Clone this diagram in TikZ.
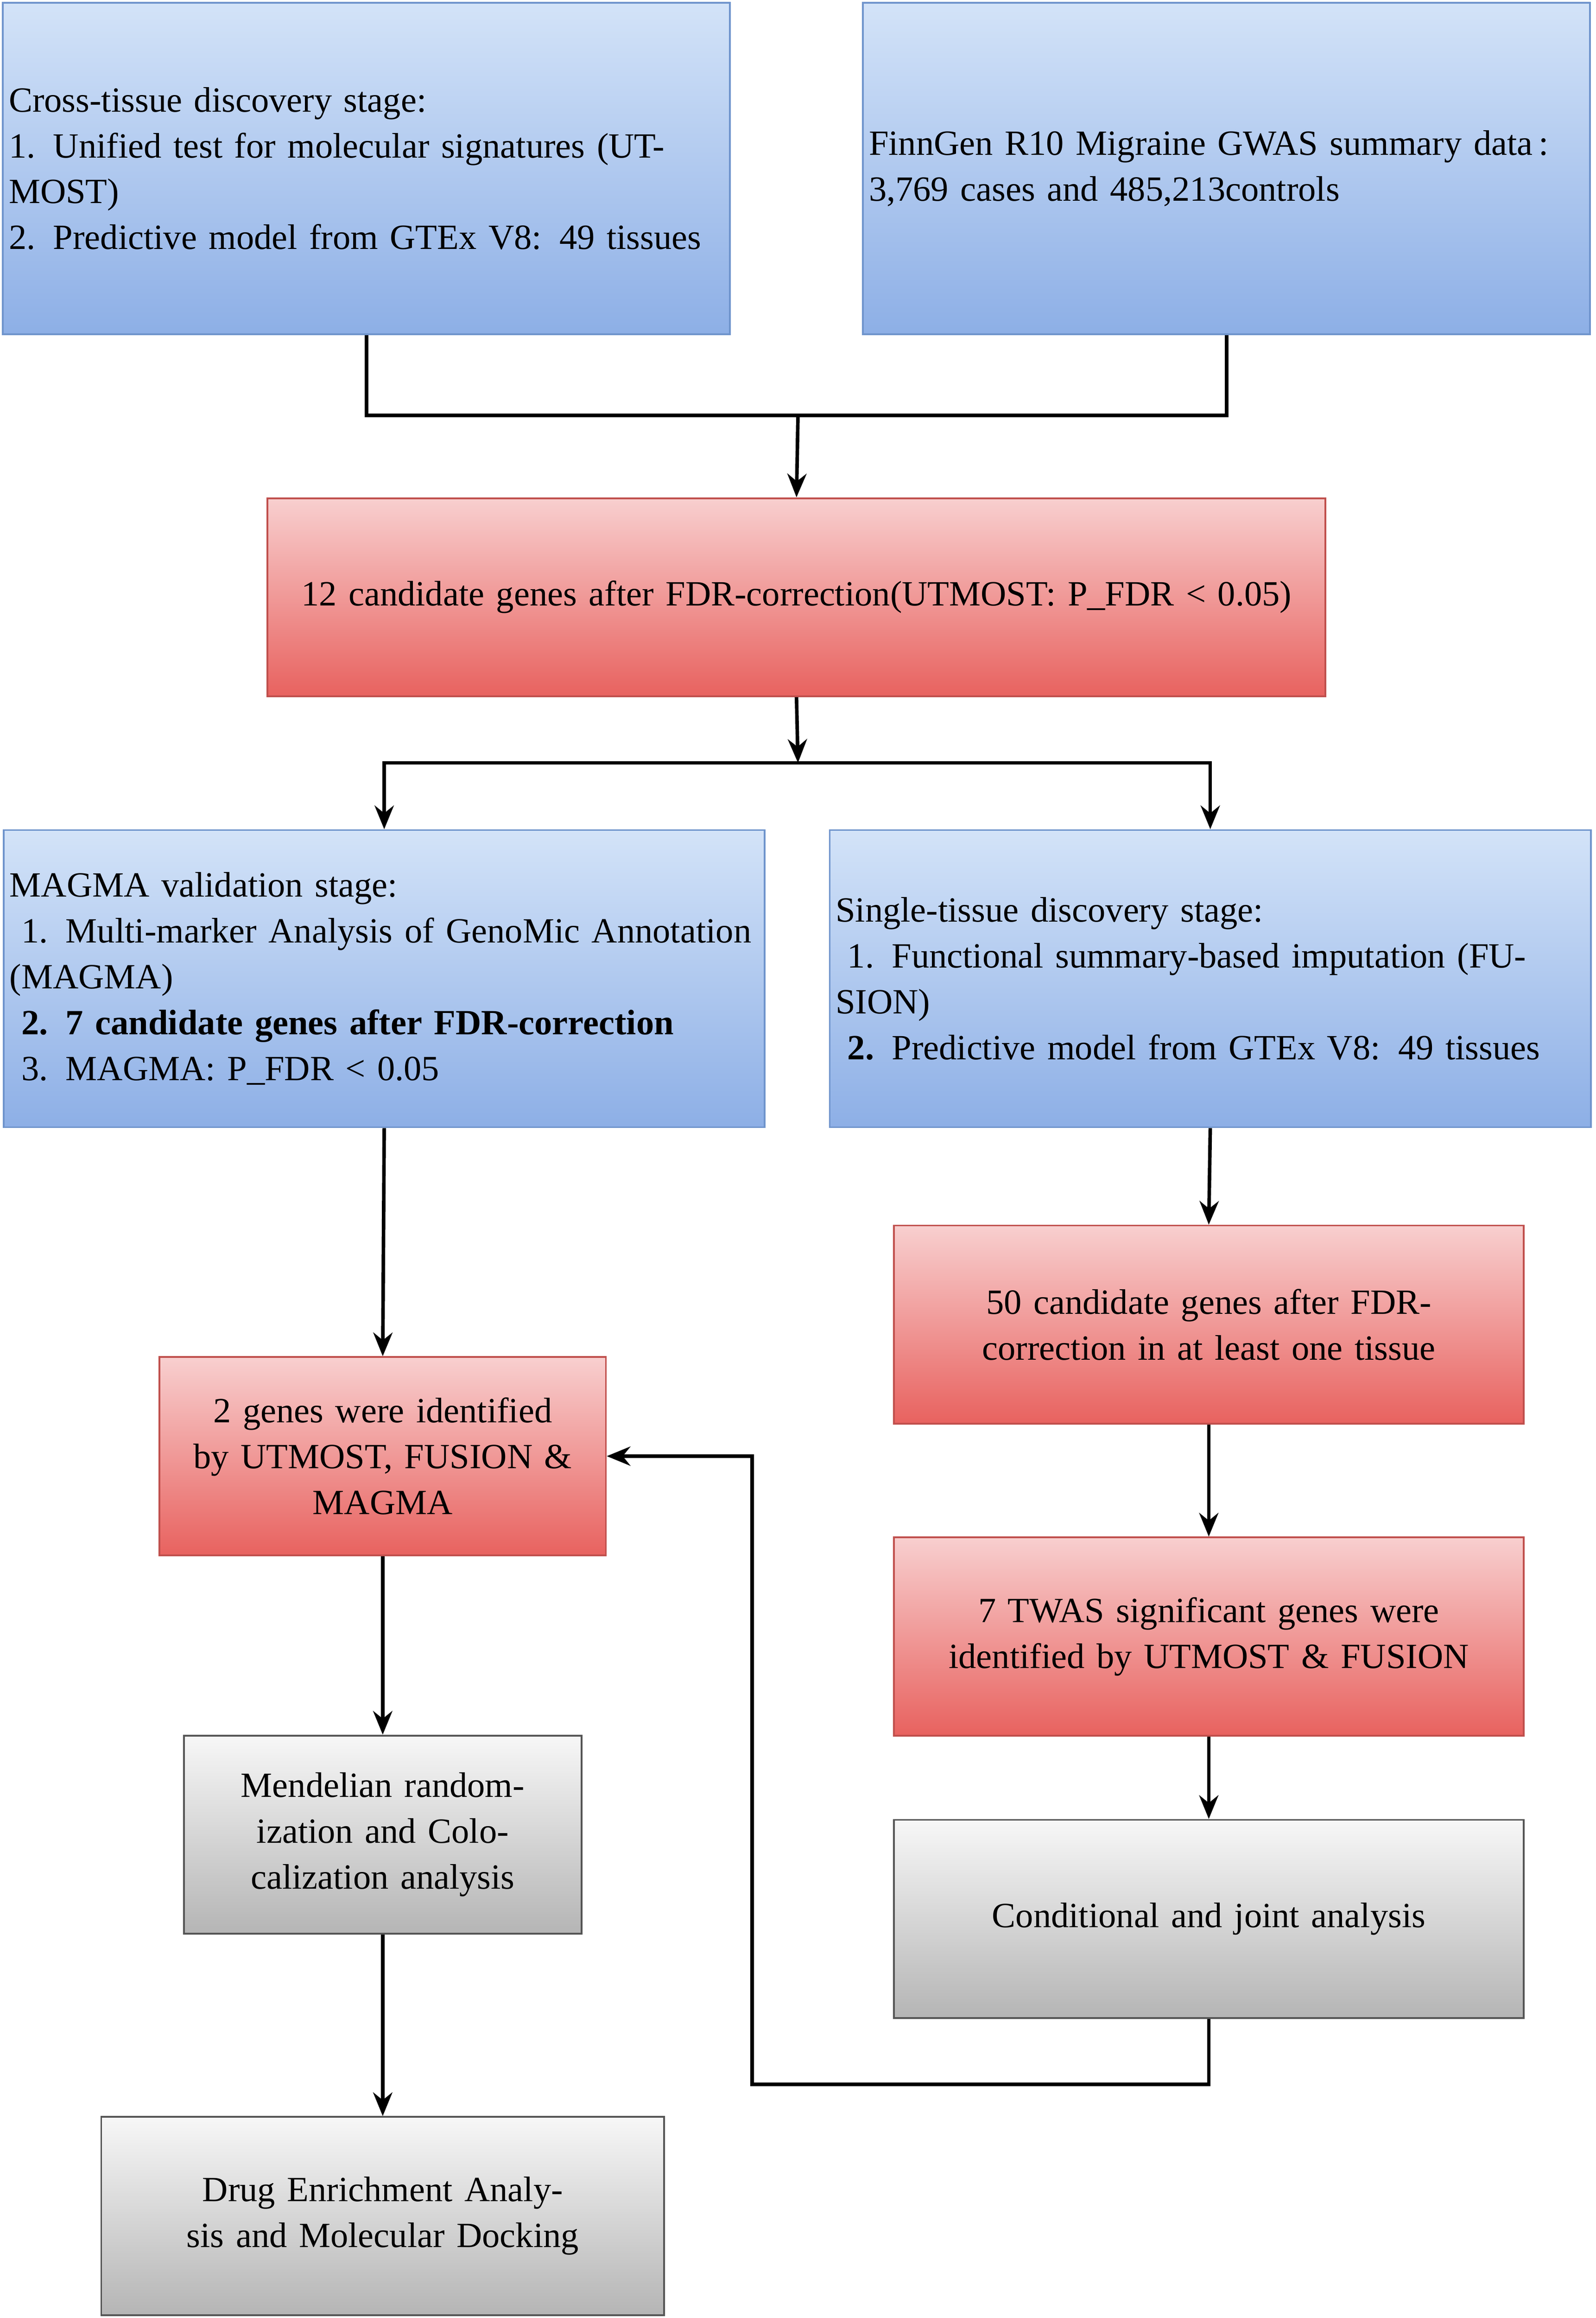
\documentclass[tikz,border=0pt]{standalone}
\usepackage{fontspec}
\setmainfont{Liberation Serif}
\usetikzlibrary{arrows.meta}
\definecolor{bt}{HTML}{D3E3F8}\definecolor{bb}{HTML}{8DAFE6}\definecolor{bd}{HTML}{6F94CC}
\definecolor{rt}{HTML}{F8CFCF}\definecolor{rb}{HTML}{E8625F}\definecolor{rd}{HTML}{C0504D}
\definecolor{gt}{HTML}{F7F7F7}\definecolor{gb}{HTML}{B5B5B5}\definecolor{gd}{HTML}{555555}
\begin{document}
\begin{tikzpicture}[x=1pt,y=-1pt,
 box/.style={draw,line width=1.2pt,inner sep=4pt,font=\fontsize{24}{31}\selectfont},
 blue/.style={box,draw=bd,top color=bt,bottom color=bb},
 red/.style={box,draw=rd,top color=rt,bottom color=rb,align=center},
 gray/.style={box,draw=gd,top color=gt,bottom color=gb,align=center},
 arr/.style={line width=2.4pt,-{Stealth[length=16pt,width=13pt]}},
 ln/.style={line width=2.4pt}]
\useasboundingbox (0,0) rectangle (1080,1568);
\node[blue,minimum width=492pt,minimum height=224pt,text width=484pt,align=left] (A) at (248,114)
 {Cross-tissue discovery stage:\\1. Unified test for molecular signatures (UTMOST)\\2. Predictive model from GTEx V8: 49 tissues};
\node[blue,minimum width=492pt,minimum height=224pt,text width=484pt,align=left] (B) at (830,114)
 {FinnGen R10 Migraine GWAS summary data\,:\\3,769 cases and 485,213controls};
\node[red,minimum width=716pt,minimum height=134pt,text width=690pt] (C) at (539,404)
 {12 candidate genes after FDR-correction(UTMOST: P\_FDR < 0.05)};
\node[blue,minimum width=515pt,minimum height=201pt,text width=507pt,align=left] (D) at (260,662)
 {MAGMA validation stage:\\\ 1. Multi-marker Analysis of GenoMic Annotation (MAGMA)\\\ \textbf{2. 7 candidate genes after FDR-correction}\\\ 3. MAGMA: P\_FDR < 0.05};
\node[blue,minimum width=515pt,minimum height=201pt,text width=507pt,align=left] (E) at (819,662)
 {Single-tissue discovery stage:\\\ 1. Functional summary-based imputation (FUSION)\\\ \textbf{2.} Predictive model from GTEx V8: 49 tissues};
\node[red,minimum width=426pt,minimum height=134pt,text width=360pt] (F) at (818,896)
 {50 candidate genes after FDR-correction in at least one tissue};
\node[red,minimum width=302pt,minimum height=134pt,text width=290pt] (G) at (259,985)
 {2 genes were identified by UTMOST, FUSION \&\\MAGMA};
\node[red,minimum width=426pt,minimum height=134pt,text width=410pt] (H) at (818,1107)
 {7 TWAS significant genes were identified by UTMOST \& FUSION};
\node[gray,minimum width=269pt,minimum height=134pt,text width=260pt] (I) at (259,1241)
 {Mendelian randomization and Colocalization analysis};
\node[gray,minimum width=426pt,minimum height=134pt,text width=410pt] (J) at (818,1298)
 {Conditional and joint analysis};
\node[gray,minimum width=381pt,minimum height=134pt,text width=360pt] (K) at (259,1499)
 {Drug Enrichment Analysis and Molecular Docking};
\coordinate (m1) at (540,281);
\draw[ln] (A.south) -- (248,281) -- (830,281) -- (B.south);
\draw[arr] (m1) -- (C.north);
\coordinate (m2) at (540,516);
\draw[arr] (C.south) -- (m2);
\draw[ln] (260,516) -- (819,516);
\draw[arr] (260,514.8) -- (D.north);
\draw[arr] (819,514.8) -- (E.north);
\draw[arr] (E.south) -- (F.north);
\draw[arr] (D.south) -- (G.north);
\draw[arr] (F.south) -- (H.north);
\draw[arr] (H.south) -- (J.north);
\draw[arr] (G.south) -- (I.north);
\draw[arr] (I.south) -- (K.north);
\draw[arr] (J.south) -- (818,1410) -- (509,1410) -- (509,985) -- (G.east);
\end{tikzpicture}
\end{document}
